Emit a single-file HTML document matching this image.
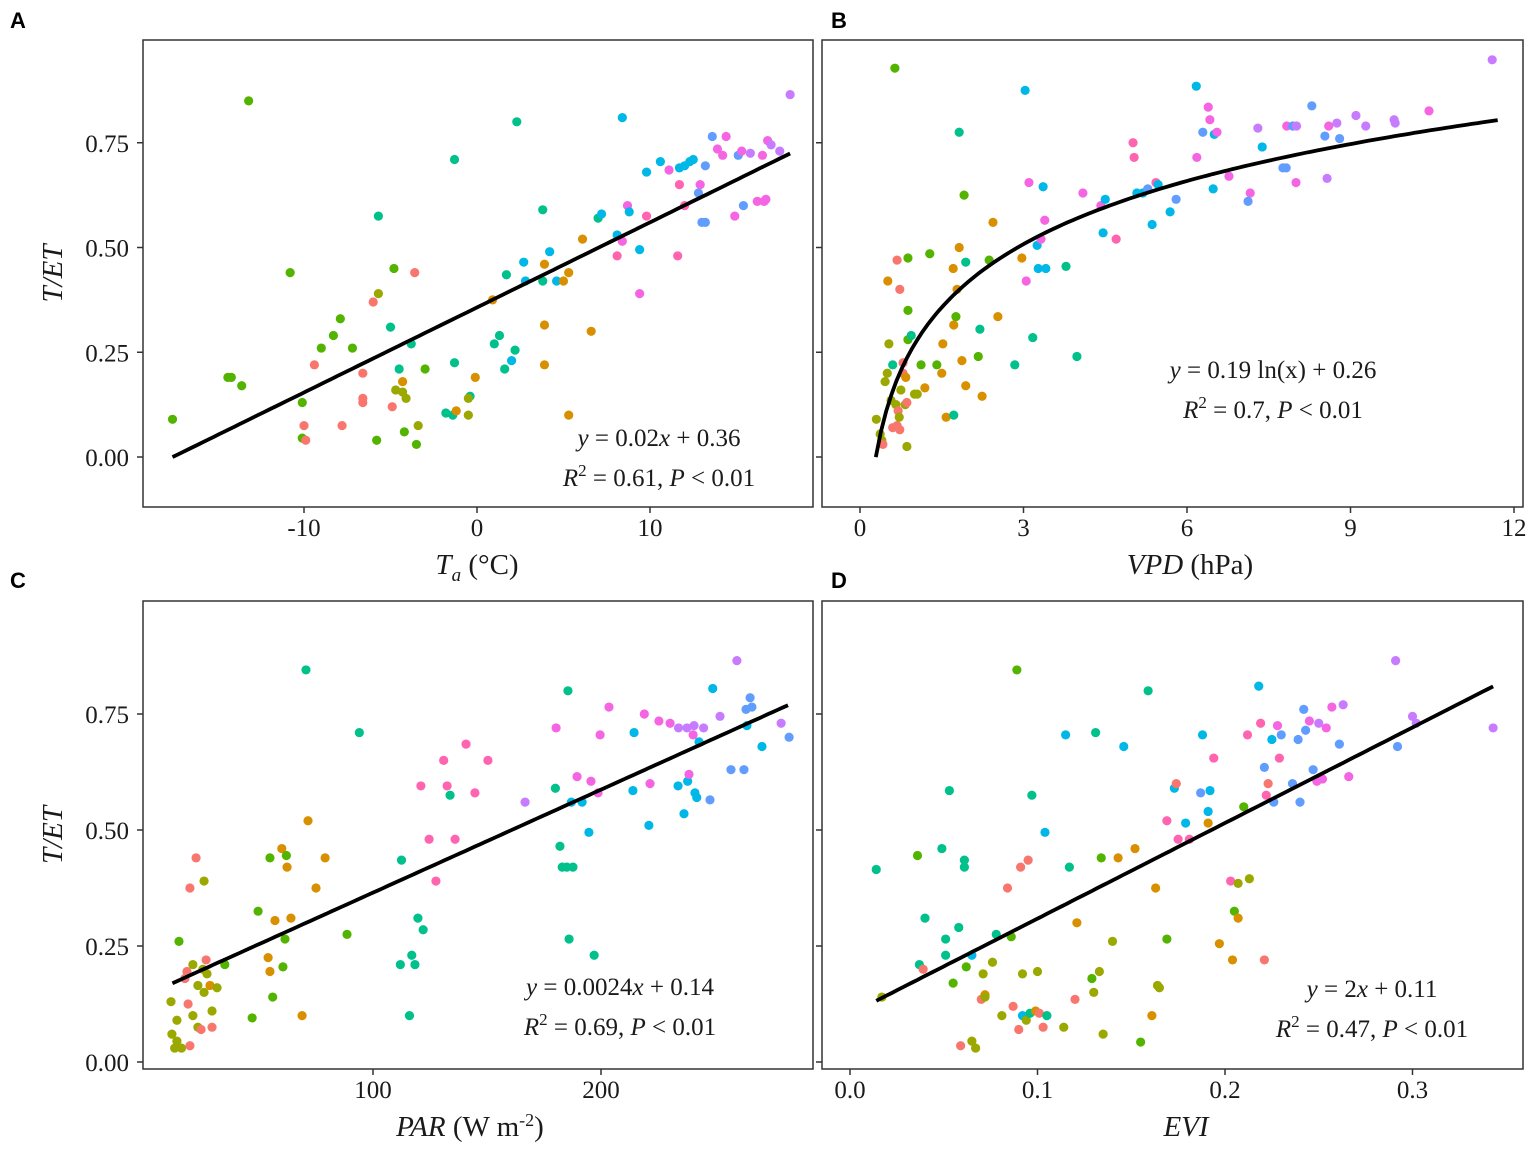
<!DOCTYPE html>
<html><head><meta charset="utf-8"><style>
html,body{margin:0;padding:0;background:#fff;}
svg{display:block;}
text{font-family:"Liberation Serif",serif;fill:#1a1a1a;}
.lbl{font-family:"Liberation Sans",sans-serif;font-weight:bold;font-size:22px;fill:#000;}
.tick{font-size:25px;}
.ttl{font-size:29px;}
.eq{font-size:25px;}
</style></head><body>
<svg id="chart" width="1535" height="1153" viewBox="0 0 1535 1153"></svg>
<script>
// group colours: 0 red,1 orange,2 olive,3 green,4 teal,5 cyan,6 blue,7 violet,8 magenta,9 pink
const groupColors = ["#F8766D","#D89000","#9AA800","#53B400","#00C08B","#00B8E7","#619CFF","#C77CFF","#F564E3","#FF64B0"];
const yTicks = [0, 0.25, 0.5, 0.75];
const yTickLabels = ["0.00","0.25","0.50","0.75"];
const taTicks = [-10, 0, 10];
const vpdTicks = [0, 3, 6, 9, 12];
const parTicks = [100, 200];
const eviTicks = [0, 0.1, 0.2, 0.3];
const eviTickLabels = ["0.0","0.1","0.2","0.3"];
const fitA = [0.0203, 0.357];
const fitB = [0.2175, 0.269];
const fitC = [0.00222, 0.143];
const fitD = [2.06, 0.103];
const pointsA = [[-17.6,.09,3],[-13.2,.85,3],[-14.4,.19,3],[-14.2,.19,3],[-13.6,.17,3],[-10.8,.44,3],[-10.1,.13,3],[-10.1,.045,3],[-10,.075,0],[-9.9,.04,0],[-9.4,.22,0],[-9,.26,3],[-8.3,.29,3],[-7.9,.33,3],[-7.8,.075,0],[-7.2,.26,3],[-6.6,.2,0],[-6.6,.14,0],[-6.6,.13,0],[-6,.37,0],[-5.7,.39,2],[-5.7,.575,4],[-5.8,.04,3],[-5,.31,4],[-4.9,.12,0],[-4.7,.16,2],[-4.8,.45,3],[-4.5,.21,4],[-4.3,.18,1],[-4.3,.155,2],[-4.1,.14,2],[-4.2,.06,3],[-3.8,.27,4],[-3.6,.44,0],[-3.5,.03,3],[-3.4,.075,2],[-3,.21,3],[-1.8,.105,4],[-1.4,.1,4],[-1.3,.225,4],[-1.3,.71,4],[-1.2,.11,1],[-.5,.1,2],[-.4,.145,4],[-.5,.14,2],[-.1,.19,1],[.9,.375,1],[1,.27,4],[1.3,.29,4],[1.6,.21,4],[1.7,.435,4],[2,.23,5],[2.2,.255,4],[2.3,.8,4],[2.7,.465,5],[2.8,.42,5],[3.8,.59,4],[3.8,.42,4],[3.9,.315,1],[3.9,.22,1],[3.9,.46,1],[4.2,.49,5],[4.6,.42,5],[5,.42,1],[5.3,.44,1],[5.3,.1,1],[6.1,.52,1],[6.6,.3,1],[7,.57,4],[7.2,.58,5],[8.1,.48,9],[8.1,.53,5],[8.4,.81,5],[8.4,.515,8],[8.7,.6,8],[8.8,.585,5],[9.4,.495,5],[9.4,.39,8],[9.8,.575,9],[9.8,.68,5],[10.6,.705,5],[11.1,.685,8],[11.6,.48,9],[11.7,.69,5],[11.7,.65,9],[12,.6,9],[12,.695,5],[12.3,.705,5],[12.5,.71,5],[12.8,.63,6],[12.9,.65,8],[13,.56,6],[13.2,.56,6],[13.2,.695,6],[13.6,.765,6],[13.9,.735,8],[14.2,.72,8],[14.4,.765,8],[14.9,.575,8],[15.1,.72,6],[15.3,.73,8],[15.4,.6,6],[15.8,.725,7],[16.2,.61,8],[16.5,.72,8],[16.6,.61,8],[16.8,.755,8],[16.7,.615,8],[17,.745,7],[17.5,.73,7],[18.1,.865,7]];
const pointsB = [[.64,.928,3],[.3,.09,2],[.37,.055,2],[.4,.04,2],[.42,.03,0],[.46,.18,2],[.5,.2,2],[.51,.42,1],[.53,.27,2],[.57,.135,2],[.6,.07,0],[.6,.22,4],[.66,.125,2],[.68,.075,0],[.68,.47,0],[.7,.11,0],[.72,.095,2],[.73,.065,0],[.73,.4,0],[.75,.16,2],[.79,.2,0],[.79,.225,0],[.83,.125,2],[.84,.19,1],[.86,.13,0],[.86,.025,2],[.88,.475,3],[.88,.35,3],[.88,.28,3],[.94,.29,4],[1,.15,2],[1.05,.15,2],[1.12,.22,3],[1.19,.165,1],[1.28,.485,3],[1.41,.22,3],[1.5,.2,1],[1.52,.27,1],[1.58,.095,1],[1.71,.45,1],[1.72,.315,1],[1.72,.1,4],[1.76,.335,3],[1.78,.4,1],[1.82,.775,4],[1.82,.5,1],[1.87,.23,1],[1.91,.625,3],[1.94,.465,4],[1.94,.17,1],[2.17,.24,3],[2.2,.305,4],[2.24,.145,1],[2.37,.47,3],[2.44,.56,1],[2.53,.335,1],[2.84,.22,4],[2.97,.475,1],[3.03,.875,5],[3.05,.42,8],[3.1,.655,8],[3.17,.285,4],[3.25,.505,5],[3.27,.45,5],[3.32,.52,8],[3.36,.645,5],[3.39,.565,8],[3.41,.45,5],[3.78,.455,4],[3.98,.24,4],[4.09,.63,8],[4.42,.6,8],[4.46,.535,5],[4.5,.615,5],[4.7,.52,9],[5.01,.75,9],[5.03,.715,9],[5.08,.63,5],[5.19,.63,5],[5.28,.64,6],[5.36,.555,5],[5.43,.655,9],[5.47,.65,5],[5.69,.585,5],[5.8,.615,6],[6.17,.885,5],[6.18,.715,8],[6.29,.775,6],[6.39,.835,8],[6.42,.805,8],[6.48,.64,5],[6.5,.77,5],[6.55,.775,8],[6.77,.67,8],[7.16,.63,8],[7.12,.61,6],[7.3,.785,7],[7.38,.74,5],[7.76,.69,6],[7.82,.69,6],[7.83,.79,8],[7.94,.79,6],[8,.655,8],[8.01,.79,7],[8.29,.838,6],[8.53,.766,6],[8.6,.79,8],[8.57,.665,7],[8.75,.797,7],[8.8,.76,6],[9.1,.815,7],[9.28,.79,7],[9.8,.805,7],[9.82,.797,7],[10.44,.826,8],[11.6,.948,7]];
const pointsC = [[11.4,.13,2],[11.8,.06,2],[13,.03,2],[14,.045,2],[14,.09,2],[14.9,.26,3],[16,.03,2],[17.5,.18,0],[18.4,.195,0],[18.9,.125,0],[19.7,.375,0],[19.7,.035,0],[21,.21,2],[21,.1,2],[22.4,.44,0],[23.2,.165,2],[23.2,.075,2],[24.6,.07,0],[25.4,.2,2],[25.9,.15,2],[25.9,.39,2],[26.8,.22,0],[27.2,.19,2],[28.5,.165,1],[29.4,.11,2],[29.4,.075,0],[31.6,.16,2],[35,.21,3],[47,.095,3],[49.6,.325,3],[54,.225,1],[54.8,.195,1],[54.8,.44,3],[56,.14,3],[57,.305,1],[60,.46,1],[60.5,.205,3],[61.4,.265,3],[62,.445,3],[62.3,.42,1],[64,.31,1],[68.9,.1,1],[70.6,.845,4],[71.5,.52,1],[75,.375,1],[79,.44,1],[88.6,.275,3],[94,.71,4],[112,.21,4],[112.5,.435,4],[116,.1,4],[117,.23,4],[118.4,.21,4],[119.7,.31,4],[121,.595,9],[122,.285,4],[124.6,.48,9],[127.6,.39,9],[131,.65,9],[132.5,.595,9],[133.8,.575,4],[136,.48,9],[140.8,.685,9],[144.7,.58,9],[150.4,.65,9],[166.7,.56,7],[180,.59,4],[180.3,.72,8],[182,.465,4],[183,.42,4],[185,.42,4],[185.5,.8,4],[186,.265,4],[187,.56,5],[187.7,.42,4],[189.5,.615,8],[191.7,.56,5],[194.7,.495,5],[195.6,.605,8],[197,.23,4],[198.7,.58,8],[199.6,.705,8],[203.5,.765,8],[214,.585,5],[214.5,.71,5],[219,.75,8],[221,.51,5],[221.5,.6,8],[225.4,.735,8],[230.3,.73,8],[233.8,.595,5],[234,.72,7],[236.4,.535,5],[237.7,.72,7],[238,.605,5],[238.6,.62,8],[240.4,.705,8],[240.8,.725,7],[241.2,.58,5],[242,.57,5],[243,.69,5],[245,.72,7],[247.8,.565,6],[249,.805,5],[252.2,.745,7],[257,.63,6],[259.6,.865,7],[262.7,.63,6],[263.6,.76,6],[264,.725,5],[265.4,.785,6],[266.2,.765,6],[270.6,.68,5],[279,.73,7],[282.5,.7,6]];
const pointsD = [[.014,.415,4],[.017,.14,2],[.036,.445,3],[.037,.21,4],[.039,.2,0],[.04,.31,4],[.049,.46,4],[.051,.265,4],[.051,.23,4],[.053,.585,4],[.055,.17,3],[.058,.29,4],[.059,.035,0],[.061,.435,4],[.061,.42,4],[.062,.205,3],[.065,.045,2],[.065,.23,5],[.067,.03,2],[.07,.135,0],[.071,.19,2],[.072,.145,1],[.072,.14,2],[.076,.215,2],[.078,.275,4],[.081,.1,2],[.084,.375,0],[.086,.27,3],[.087,.12,0],[.089,.845,3],[.09,.07,0],[.091,.42,0],[.092,.19,2],[.092,.1,5],[.094,.09,2],[.095,.435,0],[.096,.105,4],[.097,.575,4],[.099,.11,1],[.1,.195,2],[.101,.105,0],[.103,.075,0],[.105,.1,4],[.104,.495,5],[.114,.075,2],[.115,.705,5],[.117,.42,4],[.12,.135,0],[.121,.3,1],[.129,.18,3],[.13,.15,2],[.131,.71,4],[.133,.195,2],[.134,.44,3],[.135,.06,2],[.14,.26,2],[.143,.44,1],[.146,.68,5],[.152,.46,1],[.155,.043,3],[.159,.8,4],[.161,.1,1],[.163,.375,1],[.164,.165,2],[.165,.16,2],[.169,.265,3],[.169,.52,9],[.173,.59,5],[.174,.6,0],[.175,.48,9],[.179,.515,5],[.181,.48,9],[.187,.58,6],[.188,.705,5],[.191,.515,1],[.191,.54,5],[.192,.585,5],[.194,.655,9],[.197,.255,1],[.203,.39,9],[.204,.22,1],[.205,.325,3],[.207,.31,1],[.207,.385,2],[.21,.55,3],[.212,.705,9],[.213,.395,2],[.218,.81,5],[.219,.73,9],[.221,.22,0],[.221,.635,6],[.222,.575,9],[.223,.6,0],[.225,.695,5],[.226,.56,6],[.228,.725,8],[.229,.655,9],[.23,.705,6],[.236,.6,6],[.239,.695,6],[.24,.56,6],[.242,.76,6],[.243,.715,6],[.245,.735,8],[.247,.63,6],[.249,.605,8],[.25,.73,7],[.252,.61,8],[.254,.72,8],[.257,.765,8],[.261,.685,6],[.263,.77,7],[.266,.615,8],[.291,.865,7],[.292,.68,6],[.3,.745,7],[.302,.73,7],[.343,.72,7]];

const NS = "http://www.w3.org/2000/svg";
const svg = document.getElementById("chart");
function mk(tag, attrs, parent, txt) {
  const e = document.createElementNS(NS, tag);
  for (const k in attrs) e.setAttribute(k, attrs[k]);
  if (txt !== undefined) e.textContent = txt;
  (parent || svg).appendChild(e);
  return e;
}
function panel(cfg) {
  const g = mk("g", {});
  
  
  const sx = v => cfg.x0px + (v - cfg.x0) * cfg.xs;
  const sy = v => cfg.y0px - v * cfg.ys;
  const box = mk("rect", {x: cfg.L, y: cfg.T, width: cfg.R - cfg.L, height: cfg.B - cfg.T, fill: "none", stroke: "#333", "stroke-width": 1.5}, g);
  
  
  yTicks.forEach((t, i) => {
    const y = sy(t);
    mk("line", {x1: cfg.L - 6, x2: cfg.L, y1: y, y2: y, stroke: "#333", "stroke-width": 1.5}, g);
    if (cfg.showY) {
      const tl = mk("text", {x: cfg.L - 14, y: y + 9, "text-anchor": "end", class: "tick"}, g, yTickLabels[i]);
      
      
    }
  });
  cfg.xTicks.forEach((t, i) => {
    const x = sx(t);
    mk("line", {x1: x, x2: x, y1: cfg.B, y2: cfg.B + 6, stroke: "#333", "stroke-width": 1.5}, g);
    const tl = mk("text", {x: x, y: cfg.B + 29, "text-anchor": "middle", class: "tick"}, g, cfg.xLabels ? cfg.xLabels[i] : String(t));
    
    
  });
  cfg.points.forEach(p => {
    const c = mk("circle", {cx: sx(p[0]), cy: sy(p[1]), r: 4.6, fill: groupColors[p[2]]}, g);
    
    
  });
  let d = "";
  for (let i = 0; i <= 120; i++) {
    const v = cfg.fx0 + (cfg.fx1 - cfg.fx0) * i / 120;
    d += (i ? "L" : "M") + sx(v).toFixed(1) + "," + sy(cfg.fit(v)).toFixed(1);
  }
  const fl = mk("path", {d: d, fill: "none", stroke: "#000", "stroke-width": 3.8}, g);
  
  
  const e1 = mk("text", {x: cfg.eqx, y: cfg.eqy, "text-anchor": "middle", class: "eq"}, g);
  e1.innerHTML = cfg.eq1;
  
  
  const e2 = mk("text", {x: cfg.eqx, y: cfg.eqy + 40, "text-anchor": "middle", class: "eq"}, g);
  e2.innerHTML = cfg.eq2;
  
  
  const xt = mk("text", {x: cfg.xtx, y: cfg.B + 67, "text-anchor": "middle", class: "ttl"}, g);
  xt.innerHTML = cfg.xtitle;
  
  
  if (cfg.showY) {
    const cy = (cfg.T + cfg.B) / 2;
    const yt = mk("text", {x: 62, y: cy, "text-anchor": "middle", class: "ttl", "font-style": "italic", transform: "rotate(-90 62 " + cy + ")"}, g, "T/ET");
    
    
  }
  const pl = mk("text", {x: cfg.lx, y: cfg.ly, class: "lbl"}, g, cfg.letter);
  
  
}
const R2 = (r, p) => '<tspan font-style="italic">R</tspan><tspan dy="-10" font-size="17">2</tspan><tspan dy="10"> = ' + r + ',  </tspan><tspan font-style="italic">P</tspan> &lt; ' + p;
panel({name: "panel-a-ta", letter: "A", lx: 10, ly: 28, L: 143, R: 813, T: 40, B: 507, x0: 0, x0px: 477, xs: 17.3, y0px: 457, ys: 419,
  xTicks: taTicks, showY: true, points: pointsA, fit: v => fitA[0] * v + fitA[1], fx0: -17.6, fx1: 18.1,
  eqx: 659, eqy: 446, eq1: '<tspan font-style="italic">y</tspan> = 0.02<tspan font-style="italic">x</tspan> + 0.36', eq2: R2("0.61", "0.01"),
  xtx: 477, xtitle: '<tspan font-style="italic">T</tspan><tspan font-style="italic" font-size="19" dy="7">a</tspan><tspan dy="-7"> (°C)</tspan>'});
panel({name: "panel-b-vpd", letter: "B", lx: 831, ly: 28, L: 822, R: 1523, T: 40, B: 507, x0: 0, x0px: 860, xs: 54.5, y0px: 457, ys: 419,
  xTicks: vpdTicks, showY: false, points: pointsB, fit: v => fitB[0] * Math.log(v) + fitB[1], fx0: 0.29, fx1: 11.7,
  eqx: 1273, eqy: 378, eq1: '<tspan font-style="italic">y</tspan> = 0.19 ln(x) + 0.26', eq2: R2("0.7", "0.01"),
  xtx: 1190, xtitle: '<tspan font-style="italic">VPD</tspan> (hPa)'});
panel({name: "panel-c-par", letter: "C", lx: 10, ly: 588, L: 143, R: 813, T: 601, B: 1069, x0: 0, x0px: 145, xs: 2.28, y0px: 1062, ys: 464,
  xTicks: parTicks, showY: true, points: pointsC, fit: v => fitC[0] * v + fitC[1], fx0: 12, fx1: 282,
  eqx: 620, eqy: 995, eq1: '<tspan font-style="italic">y</tspan> = 0.0024<tspan font-style="italic">x</tspan> + 0.14', eq2: R2("0.69", "0.01"),
  xtx: 470, xtitle: '<tspan font-style="italic">PAR</tspan> (W m<tspan font-size="18" dy="-10">-2</tspan><tspan dy="10">)</tspan>'});
panel({name: "panel-d-evi", letter: "D", lx: 831, ly: 588, L: 822, R: 1523, T: 601, B: 1069, x0: 0, x0px: 850, xs: 1875, y0px: 1062, ys: 464,
  xTicks: eviTicks, xLabels: eviTickLabels, showY: false, points: pointsD, fit: v => fitD[0] * v + fitD[1], fx0: 0.014, fx1: 0.343,
  eqx: 1372, eqy: 997, eq1: '<tspan font-style="italic">y</tspan> = 2<tspan font-style="italic">x</tspan> + 0.11', eq2: R2("0.47", "0.01"),
  xtx: 1186, xtitle: '<tspan font-style="italic">EVI</tspan>'});
</script>
</body></html>
